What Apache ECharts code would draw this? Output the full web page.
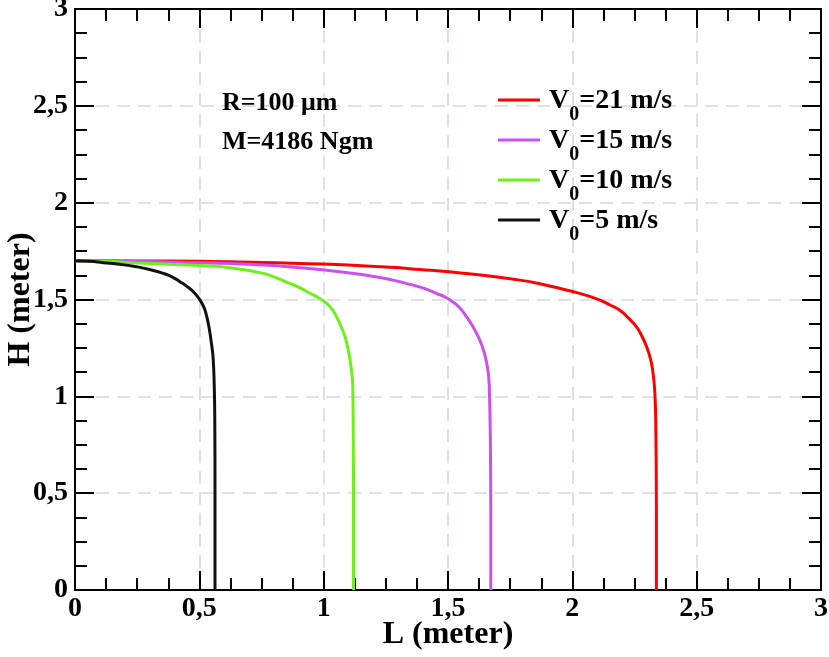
<!DOCTYPE html>
<html>
<head>
<meta charset="utf-8">
<script src="https://cdn.jsdelivr.net/npm/echarts@6/dist/echarts.min.js"></script>
<style>html,body{margin:0;padding:0;background:#fff}#c{width:829px;height:657px}</style>
</head>
<body>
<div id="c"></div>
<script>
// ---- data ----
const seriesNames = ['21', '15', '10', '5'];
const L_v21 = [0, 0.25, 0.5, 0.623, 1.0, 1.267, 1.387, 1.505, 1.789, 1.9, 2.004, 2.06, 2.111, 2.15, 2.191, 2.225, 2.258, 2.28, 2.299, 2.315, 2.323, 2.332, 2.336, 2.338, 2.338];
const H_v21 = [1.70, 1.699, 1.697, 1.695, 1.683, 1.666, 1.655, 1.643, 1.60, 1.572, 1.54, 1.52, 1.497, 1.473, 1.445, 1.405, 1.359, 1.31, 1.255, 1.19, 1.135, 1.015, 0.8, 0.4, 0];
const L_v15 = [0, 0.25, 0.5, 0.623, 0.8, 1.005, 1.226, 1.36, 1.41, 1.454, 1.485, 1.508, 1.545, 1.575, 1.60, 1.622, 1.64, 1.653, 1.662, 1.666, 1.670, 1.672, 1.672];
const H_v15 = [1.70, 1.697, 1.69, 1.686, 1.675, 1.652, 1.614, 1.574, 1.555, 1.531, 1.515, 1.497, 1.46, 1.41, 1.36, 1.307, 1.25, 1.187, 1.12, 1.049, 0.8, 0.4, 0];
const L_v10 = [0, 0.125, 0.25, 0.375, 0.5, 0.623, 0.757, 0.81, 0.864, 0.905, 0.945, 0.98, 1.012, 1.035, 1.052, 1.07, 1.086, 1.097, 1.106, 1.113, 1.117, 1.119, 1.12, 1.12];
const H_v10 = [1.70, 1.697, 1.689, 1.682, 1.675, 1.664, 1.635, 1.612, 1.583, 1.56, 1.532, 1.508, 1.48, 1.448, 1.41, 1.36, 1.307, 1.25, 1.187, 1.12, 1.049, 0.8, 0.4, 0];
const L_v5 = [0, 0.06, 0.114, 0.18, 0.248, 0.30, 0.355, 0.39, 0.422, 0.45, 0.476, 0.503, 0.52, 0.53, 0.537, 0.543, 0.549, 0.554, 0.557, 0.559, 0.562, 0.563, 0.563];
const H_v5 = [1.70, 1.697, 1.69, 1.682, 1.669, 1.655, 1.635, 1.617, 1.592, 1.568, 1.54, 1.497, 1.455, 1.41, 1.37, 1.325, 1.27, 1.22, 1.16, 1.10, 0.9, 0.5, 0];
const xTicks = [0, 0.5, 1, 1.5, 2, 2.5, 3];
const yTicks = [0, 0.5, 1, 1.5, 2, 2.5, 3];
const colors = ['#ff0000', '#cc4ff0', '#6ef01a', '#111111'];

const zip = (a, b) => a.map((v, i) => [v, b[i]]);
const allL = [L_v21, L_v15, L_v10, L_v5];
const allH = [H_v21, H_v15, H_v10, H_v5];

const FONT = '"Liberation Serif", "Times New Roman", serif';
const fmt = v => String(v).replace('.', ',');

function axisCommon() {
  return {
    type: 'value', min: 0, max: 3, interval: 0.5,
    axisLine: { onZero: false, lineStyle: { color: '#000', width: 2 } },
    axisTick: { inside: true, length: 19, lineStyle: { color: '#000', width: 2 } },
    minorTick: { show: true, splitNumber: 4, length: 12, lineStyle: { color: '#000', width: 2 } },
  };
}
const labelStyle = { fontFamily: FONT, fontWeight: 'bold', fontSize: 28, color: '#000', showMinLabel: true, showMaxLabel: true, hideOverlap: false };
const splitStyle = { show: true, lineStyle: { color: '#dde3e3', width: 2, type: [13, 8] } };

const chart = echarts.init(document.getElementById('c'));
chart.setOption({
  animation: false,
  backgroundColor: '#fff',
  grid: { left: 75, right: 8, top: 9, bottom: 67, outerBoundsMode: 'none', containLabel: false },
  legend: {
    orient: 'vertical', left: 493, top: 82,
    icon: 'rect', itemWidth: 42, itemHeight: 3, itemGap: 2,
    data: seriesNames.map(n => 'v' + n),
    formatter: name => '{v|V}{s|0}{v|=' + name.slice(1) + ' m/s}',
    textStyle: {
      padding: [0, 0, 0, 4],
      rich: {
        v: { fontFamily: FONT, fontWeight: 'bold', fontSize: 28, color: '#000', lineHeight: 26, verticalAlign: 'top' },
        s: { fontFamily: FONT, fontWeight: 'bold', fontSize: 20, color: '#000', lineHeight: 18, padding: [18, 0, 0, 0], verticalAlign: 'top' }
      }
    }
  },
  xAxis: [
    Object.assign(axisCommon(), {
      position: 'bottom',
      name: 'L (meter)', nameLocation: 'middle', nameGap: 29, nameMoveOverlap: false,
      nameTextStyle: { fontFamily: FONT, fontWeight: 'bold', fontSize: 32, color: '#000' },
      axisLabel: Object.assign({ margin: 5, formatter: v => xTicks.includes(v) ? fmt(v) : '' }, labelStyle),
      splitLine: splitStyle
    }),
    Object.assign(axisCommon(), {
      position: 'top', axisLabel: { show: false }, splitLine: { show: false }
    })
  ],
  yAxis: [
    Object.assign(axisCommon(), {
      position: 'left',
      name: 'H (meter)', nameLocation: 'middle', nameGap: 38, nameMoveOverlap: false,
      nameTextStyle: { fontFamily: FONT, fontWeight: 'bold', fontSize: 32, color: '#000' },
      axisLabel: Object.assign({ margin: 7, formatter: v => yTicks.includes(v) ? fmt(v) : '' }, labelStyle),
      splitLine: splitStyle
    }),
    Object.assign(axisCommon(), {
      position: 'right', axisLabel: { show: false }, splitLine: { show: false }
    })
  ],
  graphic: [
    { type: 'text', z: 100, left: 222, top: 90, style: { text: 'R=100 μm', fontFamily: FONT, fontWeight: 'bold', fontSize: 26, fill: '#000' } },
    { type: 'text', z: 100, left: 222, top: 129, style: { text: 'M=4186 Ngm', fontFamily: FONT, fontWeight: 'bold', fontSize: 26, fill: '#000' } }
  ],
  series: seriesNames.map((n, i) => ({
    name: 'v' + n,
    type: 'line',
    xAxisIndex: 0, yAxisIndex: 0,
    showSymbol: false, symbol: 'none',
    smooth: 0.5,
    data: zip(allL[i], allH[i]),
    lineStyle: { color: colors[i], width: 3 },
    itemStyle: { color: colors[i] }
  }))
});
</script>
</body>
</html>
